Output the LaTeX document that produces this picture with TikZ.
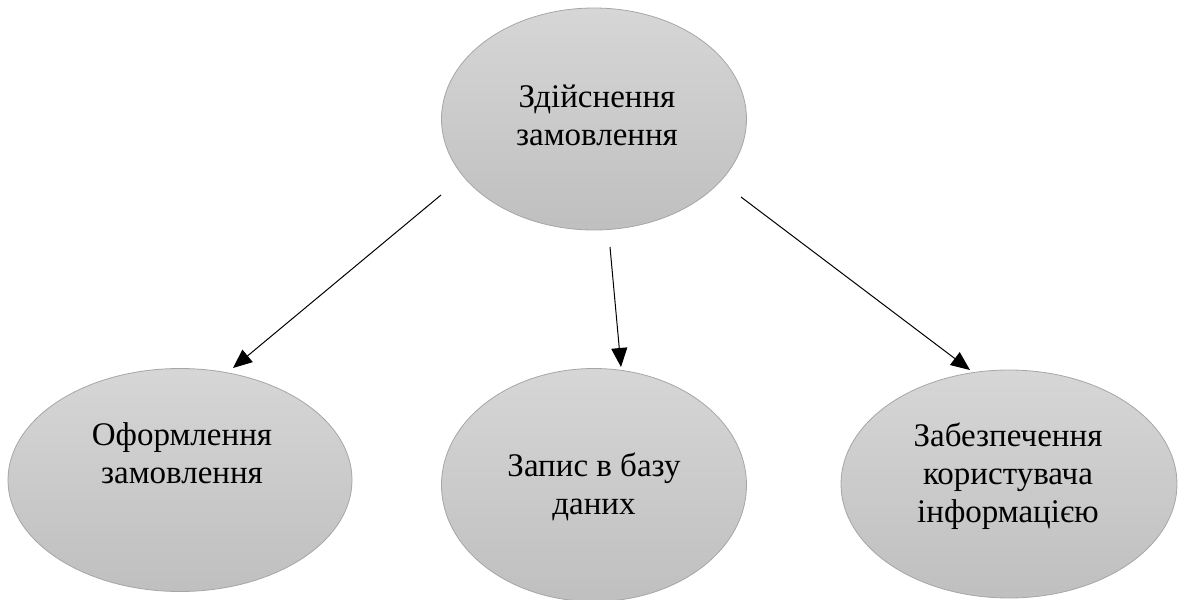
\documentclass[tikz,border=0pt]{standalone}
\usepackage{fontspec}
\setmainfont{Liberation Serif}
\usetikzlibrary{shapes.geometric,arrows.meta}
\begin{document}
\begin{tikzpicture}[x=1pt,y=-1pt,
  oval/.style={ellipse, draw=black!35, line width=0.8pt, top color=black!16, bottom color=black!25, inner sep=0pt},
  lbl/.style={align=center, font=\fontsize{33}{38}\selectfont, text=black},
  conn/.style={line width=1pt, -{Triangle[length=19pt,width=16pt]}}]
\useasboundingbox (0,0) rectangle (1184,600);
\node[oval, minimum width=305pt, minimum height=222pt] (top) at (594,119) {};
\node[oval, minimum width=344pt, minimum height=223pt] (left) at (180,480) {};
\node[oval, minimum width=305pt, minimum height=233pt] (mid) at (594,485) {};
\node[oval, minimum width=336pt, minimum height=228pt] (right) at (1009,484) {};
\node[lbl] (ttop) at (597,115) {Здійснення\\замовлення};
\node[lbl] (tleft) at (182,453) {Оформлення\\замовлення};
\node[lbl] (tmid) at (594,487) {Запис в базу\\даних};
\node[lbl] (tright) at (1008,476) {Забезпечення\\користувача\\інформацією};
\coordinate (s1) at (441,195);
\coordinate (e1) at (233,368);
\coordinate (s2) at (610,247);
\coordinate (e2) at (621,367);
\coordinate (s3) at (741,197);
\coordinate (e3) at (970,370);
\draw[conn] (s1) -- (e1);
\draw[conn] (s2) -- (e2);
\draw[conn] (s3) -- (e3);
\end{tikzpicture}
\end{document}
